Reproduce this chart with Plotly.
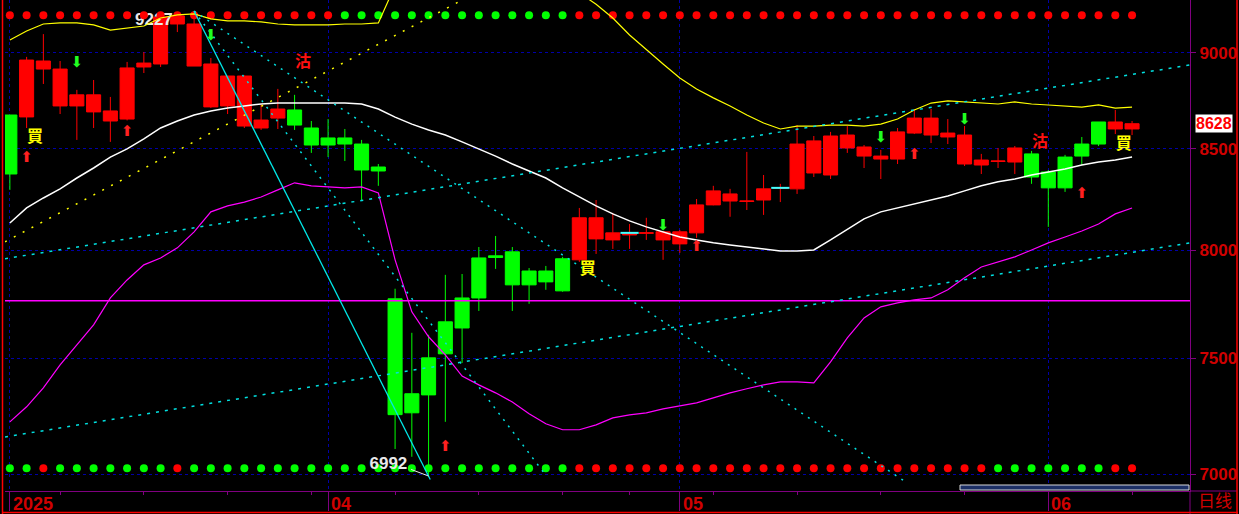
import numpy as np
import plotly.graph_objects as go

# ---------------- data ----------------
idx = list(range(68))
open_ = [8673, 8663, 8914, 8720, 8720, 8689, 8642, 8652, 8925, 8941,
         9157, 8930, 8715, 8720, 8616, 8606, 8657, 8699, 8606, 8555,
         8555, 8524, 8408, 7772, 7344, 7503, 7666, 7776, 7964, 7974,
         7993, 7902, 7902, 7960, 7955, 8055, 8050, 8074, 8082, 8050,
         8031, 8084, 8220, 8239, 8237, 8244, 8302, 8299, 8378, 8368,
         8504, 8463, 8448, 8448, 8580, 8570, 8560, 8423, 8418, 8436,
         8433, 8474, 8383, 8458, 8524, 8637, 8601, 8601]
high = [8673, 8979, 9102, 8957, 8804, 8856, 8767, 8952, 9005, 9217,
        9220, 9227, 8973, 8877, 8880, 8730, 8809, 8778, 8642, 8652,
        8601, 8545, 8423, 7819, 7616, 7607, 7884, 7888, 8016, 8069,
        8016, 7916, 7926, 7969, 8205, 8244, 8181, 8127, 8157, 8092,
        8098, 8249, 8314, 8299, 8484, 8368, 8324, 8621, 8565, 8586,
        8616, 8519, 8494, 8606, 8704, 8704, 8652, 8616, 8474, 8504,
        8514, 8489, 8393, 8469, 8560, 8637, 8699, 8642]
low = [8294, 8606, 8835, 8678, 8545, 8606, 8535, 8645, 8893, 8925,
       9113, 8930, 8710, 8678, 8606, 8596, 8601, 8596, 8479, 8458,
       8438, 8244, 8314, 7106, 7073, 6992, 7222, 7480, 7716, 7912,
       7716, 7749, 7814, 7805, 7945, 7983, 8007, 8007, 8050, 7955,
       7988, 8060, 8218, 8162, 8195, 8171, 8234, 8274, 8358, 8348,
       8479, 8403, 8348, 8423, 8575, 8529, 8524, 8413, 8373, 8403,
       8373, 8324, 8113, 8284, 8418, 8514, 8575, 8570]
close = [8373, 8962, 8957, 8914, 8778, 8778, 8694, 8920, 8946, 9195,
         9201, 9157, 8941, 8877, 8877, 8647, 8704, 8621, 8519, 8519,
         8524, 8393, 8388, 7253, 7261, 7339, 7521, 7638, 7776, 7966,
         7837, 7837, 7851, 7809, 8157, 8157, 8084, 8084, 8084, 8089,
         8089, 8220, 8289, 8274, 8239, 8299, 8304, 8524, 8540, 8565,
         8570, 8509, 8463, 8586, 8657, 8657, 8580, 8570, 8443, 8438,
         8504, 8358, 8304, 8304, 8463, 8524, 8637, 8628]

mid_band = [8132, 8205, 8254, 8299, 8353, 8403, 8458, 8499, 8550, 8606,
            8642, 8673, 8694, 8709, 8720, 8730, 8735, 8735, 8735, 8735,
            8735, 8730, 8704, 8662, 8626, 8596, 8570, 8535, 8499, 8463,
            8423, 8388, 8353, 8304, 8259, 8215, 8176, 8142, 8113, 8089,
            8064, 8050, 8036, 8026, 8016, 8007, 7997, 7997, 8002, 8050,
            8103, 8152, 8186, 8205, 8225, 8244, 8264, 8289, 8314, 8334,
            8348, 8368, 8383, 8398, 8418, 8433, 8443, 8458]
upper_band = [9070, 9119, 9157, 9163, 9163, 9152, 9124, 9135, 9146, 9190,
              9207, 9212, 9185, 9174, 9174, 9168, 9157, 9152, 9152, 9152,
              9157, 9157, 9163, 9369, 9540, 9594, 9624, 9648, 9615, 9578,
              9538, 9519, 9492, 9420, 9330, 9265, 9190, 9097, 9016, 8941,
              8867, 8809, 8762, 8720, 8673, 8632, 8601, 8616, 8616, 8621,
              8621, 8616, 8626, 8652, 8699, 8735, 8746, 8741, 8735, 8730,
              8741, 8730, 8725, 8720, 8714, 8725, 8709, 8714]
lower_band = [7222, 7287, 7370, 7472, 7561, 7652, 7776, 7860, 7931, 7964,
              8012, 8089, 8186, 8215, 8234, 8259, 8294, 8329, 8314, 8309,
              8304, 8309, 8279, 7955, 7712, 7598, 7516, 7422, 7383, 7348,
              7308, 7257, 7214, 7188, 7188, 7209, 7239, 7252, 7261, 7278,
              7291, 7304, 7326, 7348, 7366, 7383, 7396, 7396, 7392, 7485,
              7593, 7684, 7735, 7753, 7767, 7776, 7814, 7870, 7921, 7945,
              7969, 8002, 8036, 8064, 8093, 8127, 8176, 8205]

# signal dot rows (r = red, g = green)
top_dots = "r" * 20 + "g" * 14 + "r" * 34
bottom_dots = "ggrgggggggr" + "g" * 23 + "r" * 25 + "g" * 7 + "rr"
top_row_level = 9205
bottom_row_level = 7025

# arrows and buy/sell marks
up_arrow_idx = [1, 7, 26, 41, 54, 64]
up_arrow_level = [8453, 8586, 7114, 8016, 8469, 8274]
down_arrow_idx = [4, 12, 39, 52, 57]
down_arrow_level = [8946, 9092, 8118, 8555, 8647]
buy_idx = [1, 34, 66]
buy_level = [8555, 7907, 8519]
sell_idx = [17, 61]
sell_level = [8946, 8529]
doji_mark_idx = [37, 46]

support_level = 7763

# trend lines: (x0, y0, x1, y1)
fan_steep = (11, 9227, 32, 6995)
fan_flat = (11, 9227, 53.5, 6967)
rise_low = (-0.29, 7157, 70.46, 8036)
rise_high = (-0.29, 7960, 70.46, 8936)
rise_yellow = (-0.29, 8041, 30, 9437)

month_ticks = [0, 19, 40, 62]
month_labels = ["2025", "04", "05", "06"]
week_ticks = [3, 8, 13, 18, 23, 28, 33, 37, 42, 47, 52, 57, 67]
y_ticks = [7000, 7500, 8000, 8500, 9000]

# ---------------- figure ----------------
RED = "#ff0000"
GREEN = "#00ff00"
AXRED = "#d00000"
PURPLE = "#800080"
GRID = "#0000a8"

fig = go.Figure()

hi_i = int(np.argmax(high))
lo_i = int(np.argmin(low))

# high label (behind candles)
fig.add_trace(go.Scatter(x=[hi_i - 2.4], y=[high[hi_i] * 0.9945], mode="text",
                         text=[f"{high[hi_i]}"],
                         textfont=dict(color="#e8e8e8", size=17, family="Liberation Sans", weight="bold"),
                         hoverinfo="skip"))

# dot rows
def dot_colors(s):
    return [RED if c == "r" else GREEN for c in s]

fig.add_trace(go.Scatter(x=idx, y=[top_row_level] * len(idx), mode="markers",
                         marker=dict(size=8, color=dot_colors(top_dots)), hoverinfo="skip"))
fig.add_trace(go.Scatter(x=idx, y=[bottom_row_level] * len(idx), mode="markers",
                         marker=dict(size=8, color=dot_colors(bottom_dots)), hoverinfo="skip"))

# candles
fig.add_trace(go.Candlestick(x=idx, open=open_, high=high, low=low, close=close,
                             increasing=dict(line=dict(color=RED, width=1), fillcolor=RED),
                             decreasing=dict(line=dict(color=GREEN, width=1), fillcolor=GREEN),
                             whiskerwidth=0, hoverinfo="skip"))

# bands
fig.add_trace(go.Scatter(x=idx, y=upper_band, mode="lines", line=dict(color="#ffff00", width=1.2)))
fig.add_trace(go.Scatter(x=idx, y=mid_band, mode="lines", line=dict(color="#ffffff", width=1.5)))
fig.add_trace(go.Scatter(x=idx, y=lower_band, mode="lines", line=dict(color="#ff00ff", width=1.2)))

# support line
fig.add_trace(go.Scatter(x=[-0.29, 70.46], y=[support_level] * 2, mode="lines",
                         line=dict(color="#ff00ff", width=1.5)))

# trend lines
def seg(t, color, dash, width=1.5):
    fig.add_trace(go.Scatter(x=[t[0], t[2]], y=[t[1], t[3]], mode="lines",
                             line=dict(color=color, dash=dash, width=width), hoverinfo="skip"))

seg(fan_steep, "#00e0e0", "2px,6px")
seg(fan_flat, "#00e0e0", "2px,6px")
seg(rise_low, "#00e0e0", "3px,6px")
seg(rise_high, "#00e0e0", "3px,6px")
seg(rise_yellow, "#ffff00", "2px,8px")
seg((hi_i, high[hi_i], lo_i + 0.1, low[lo_i] * 0.998), "#00e8e8", None, 1.3)

# low label + leader
fig.add_trace(go.Scatter(x=[lo_i - 1.05, lo_i], y=[low[lo_i] * 1.004, low[lo_i]], mode="lines",
                         line=dict(color="#e8e8e8", width=1), hoverinfo="skip"))
fig.add_trace(go.Scatter(x=[lo_i - 2.4], y=[low[lo_i] * 1.0068], mode="text",
                         text=[f"{low[lo_i]}"],
                         textfont=dict(color="#e8e8e8", size=17, family="Liberation Sans", weight="bold"),
                         hoverinfo="skip"))

# doji marks
fig.add_trace(go.Scatter(x=doji_mark_idx, y=[close[i] for i in doji_mark_idx], mode="markers",
                         marker=dict(symbol="line-ew", size=13, line=dict(color="#40ffff", width=2)),
                         hoverinfo="skip"))

# arrows
fig.add_trace(go.Scatter(x=up_arrow_idx, y=up_arrow_level, mode="text", text=["⬆"] * len(up_arrow_idx),
                         textfont=dict(color="#ff2020", size=15, family="DejaVu Sans"), hoverinfo="skip"))
fig.add_trace(go.Scatter(x=down_arrow_idx, y=down_arrow_level, mode="text", text=["⬇"] * len(down_arrow_idx),
                         textfont=dict(color="#20ff20", size=15, family="DejaVu Sans"), hoverinfo="skip"))

# buy / sell marks
fig.add_trace(go.Scatter(x=[i + 0.5 for i in buy_idx], y=buy_level, mode="text", text=["買"] * len(buy_idx),
                         textfont=dict(color="#ffff00", size=16, family="Noto Sans CJK TC", weight="bold"),
                         hoverinfo="skip"))
fig.add_trace(go.Scatter(x=[i + 0.5 for i in sell_idx], y=sell_level, mode="text", text=["沽"] * len(sell_idx),
                         textfont=dict(color="#ff1010", size=16, family="Noto Sans CJK TC", weight="bold"),
                         hoverinfo="skip"))

# ---------------- layout ----------------
W, H = 1239, 514
ML, MR, MT, MB = 5, 49, 0, 23
PW, PH = W - ML - MR, H - MT - MB

def px_x(p):
    return (p - ML) / PW

def px_y(p):
    return (H - MB - p) / PH

shapes = [
    dict(type="line", xref="paper", yref="paper", x0=1, x1=px_x(1237), y0=0, y1=0,
         line=dict(color=PURPLE, width=1)),
    dict(type="line", xref="paper", yref="paper", x0=1, x1=1, y0=px_y(514), y1=0,
         line=dict(color=PURPLE, width=1)),
    dict(type="line", xref="paper", yref="paper", x0=px_x(2.5), x1=px_x(2.5), y0=px_y(514), y1=px_y(0),
         line=dict(color="#ff0000", width=1.5)),
    dict(type="line", xref="paper", yref="paper", x0=px_x(1237), x1=px_x(1237), y0=px_y(514), y1=px_y(0),
         line=dict(color="#ff0000", width=1.5)),
    dict(type="line", xref="paper", yref="paper", x0=px_x(2), x1=px_x(1238), y0=px_y(512.5), y1=px_y(512.5),
         line=dict(color="#ff0000", width=1.5)),
    dict(type="rect", xref="paper", yref="paper", x0=px_x(960), x1=px_x(1189), y0=px_y(490), y1=px_y(485),
         fillcolor="#1c2f66", line=dict(color="#d8d8d8", width=1)),
]

annotations = []
for t, lab in zip(month_ticks, month_labels):
    annotations.append(dict(x=t, y=0, xref="x", yref="paper", text=lab, showarrow=False,
                            xanchor="left", yanchor="top", xshift=1, yshift=-1,
                            font=dict(color=AXRED, size=18, family="Liberation Sans", weight="bold")))
annotations.append(dict(x=px_x(1197), y=px_y(513), xref="paper", yref="paper", text="日线",
                        showarrow=False, xanchor="left", yanchor="bottom", borderpad=0,
                        font=dict(color=AXRED, size=17, family="Noto Sans CJK SC")))
annotations.append(dict(x=px_x(1195), y=np.log10(close[-1]), xref="paper", yref="y",
                        text=f"{close[-1]}", showarrow=False, xanchor="left", bgcolor="#ffffff",
                        borderpad=0, font=dict(color="#ff0000", size=16, family="Liberation Sans", weight="bold")))

fig.update_layout(
    width=W, height=H,
    margin=dict(l=ML, r=MR, t=MT, b=MB, autoexpand=False),
    paper_bgcolor="#000000", plot_bgcolor="#000000",
    showlegend=False,
    boxgap=0.16, boxgroupgap=0,
    xaxis=dict(range=[-0.29, 70.46], tickvals=month_ticks, showticklabels=False,
               ticks="outside", ticklen=19, tickcolor=PURPLE, tickwidth=1,
               showgrid=True, gridcolor=GRID, griddash="dot", gridwidth=1,
               showline=True, linecolor=PURPLE, linewidth=1, zeroline=False,
               automargin=False,
               rangeslider=dict(visible=False),
               minor=dict(tickvals=week_ticks, ticks="outside", ticklen=3, tickcolor=PURPLE, showgrid=False)),
    yaxis=dict(type="log", range=[np.log10(6930), np.log10(9289)], side="right",
               tickvals=y_ticks, ticktext=[str(v) for v in y_ticks],
               ticks="outside", ticklen=5, tickcolor=PURPLE,
               showgrid=True, gridcolor=GRID, griddash="dot", gridwidth=1,
               showline=True, linecolor=PURPLE, linewidth=1, zeroline=False,
               automargin=False,
               tickfont=dict(color=AXRED, size=17, family="Liberation Sans", weight="bold")),
    shapes=shapes,
    annotations=annotations,
)

fig.write_html("out.html", config={"displayModeBar": False},
               post_script="document.body.style.margin='0';document.body.style.background='#000';")
